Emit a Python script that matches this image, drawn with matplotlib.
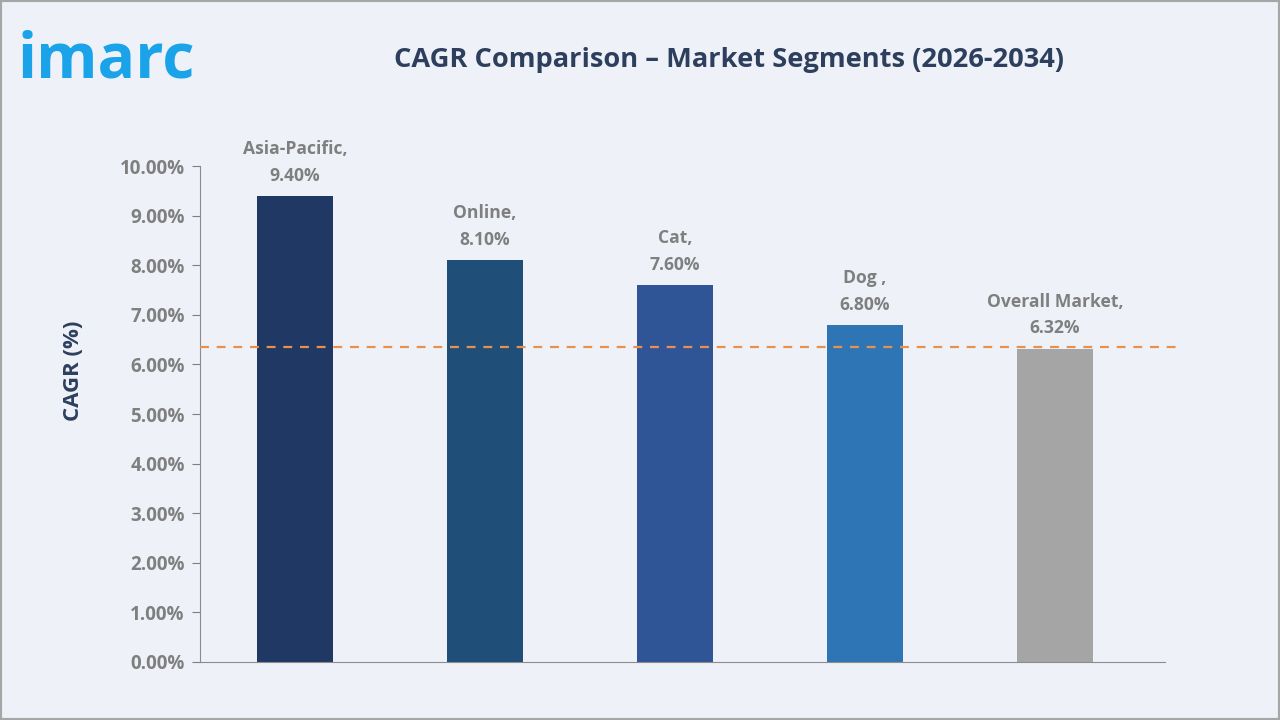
import matplotlib.pyplot as plt
from matplotlib.ticker import FuncFormatter

# ---------------- data ----------------
segments = ['Asia-Pacific', 'Online', 'Cat', 'Dog ', 'Overall Market']
cagr = [9.40, 8.10, 7.60, 6.80, 6.32]
bar_colors = ['#203864', '#1F4E79', '#2F5597', '#2E75B6', '#A5A5A5']
y_ticks = [0, 1, 2, 3, 4, 5, 6, 7, 8, 9, 10]

plt.rcParams['font.family'] = ['Open Sans', 'DejaVu Sans']

bg = '#EEF2F8'
grey = '#7F7F7F'
navy = '#2E3F5E'

fig = plt.figure(figsize=(12.8, 7.2), dpi=100, facecolor=bg)
ax = fig.add_axes([0.15625, 0.0806, 0.7539, 0.6888], facecolor=bg)

x = range(len(segments))
ax.bar(x, cagr, width=0.4, color=bar_colors, zorder=2)

# reference line at overall market CAGR
ax.plot([-0.5, 4.65], [cagr[-1] + 0.03, cagr[-1] + 0.03], color='#E8914F', lw=1.6,
        ls=(0, (4, 3.5)), zorder=3, clip_on=False)

for i, (s, v) in enumerate(zip(segments, cagr)):
    ax.annotate(f'{s},\n{v:.2f}%', (i, v), xytext=(0, 8), textcoords='offset points',
                ha='center', va='bottom', fontsize=12.6, fontweight='bold',
                color=grey, linespacing=1.62)

ax.set_xlim(-0.5, 4.58)
ax.set_ylim(0, 10)
ax.set_yticks(y_ticks)
ax.yaxis.set_major_formatter(FuncFormatter(lambda v, p: f'{v:.2f}%'))
ax.set_xticks([])
ax.tick_params(axis='y', direction='out', length=6, color=grey, labelcolor=grey,
               labelsize=13.5, pad=5)
for lab in ax.get_yticklabels():
    lab.set_fontweight('bold')

for side in ['top', 'right']:
    ax.spines[side].set_visible(False)
ax.spines['left'].set_color('#8C8C8C')
ax.spines['bottom'].set_color('#8C8C8C')
ax.spines['left'].set_zorder(1)

ax.set_ylabel('CAGR (%)', fontsize=16, fontweight='bold', color=navy)
ax.yaxis.set_label_coords(-0.12, 0.587)

fig.text(0.5695, 0.916, 'CAGR Comparison \u2013 Market Segments (2026-2034)',
         ha='center', va='center', fontsize=19.6, fontweight='bold', color=navy)

# logo
fig.text(0.014, 0.915, 'imarc', ha='left', va='center', fontsize=45,
         fontweight='bold', color='#1BA3EA')

# border
fig.patches.append(plt.Rectangle((0, 0), 1, 1, transform=fig.transFigure,
                                 fill=False, edgecolor='#A6A6A6', lw=3))

fig.savefig('out.png', dpi=100, facecolor=bg)
